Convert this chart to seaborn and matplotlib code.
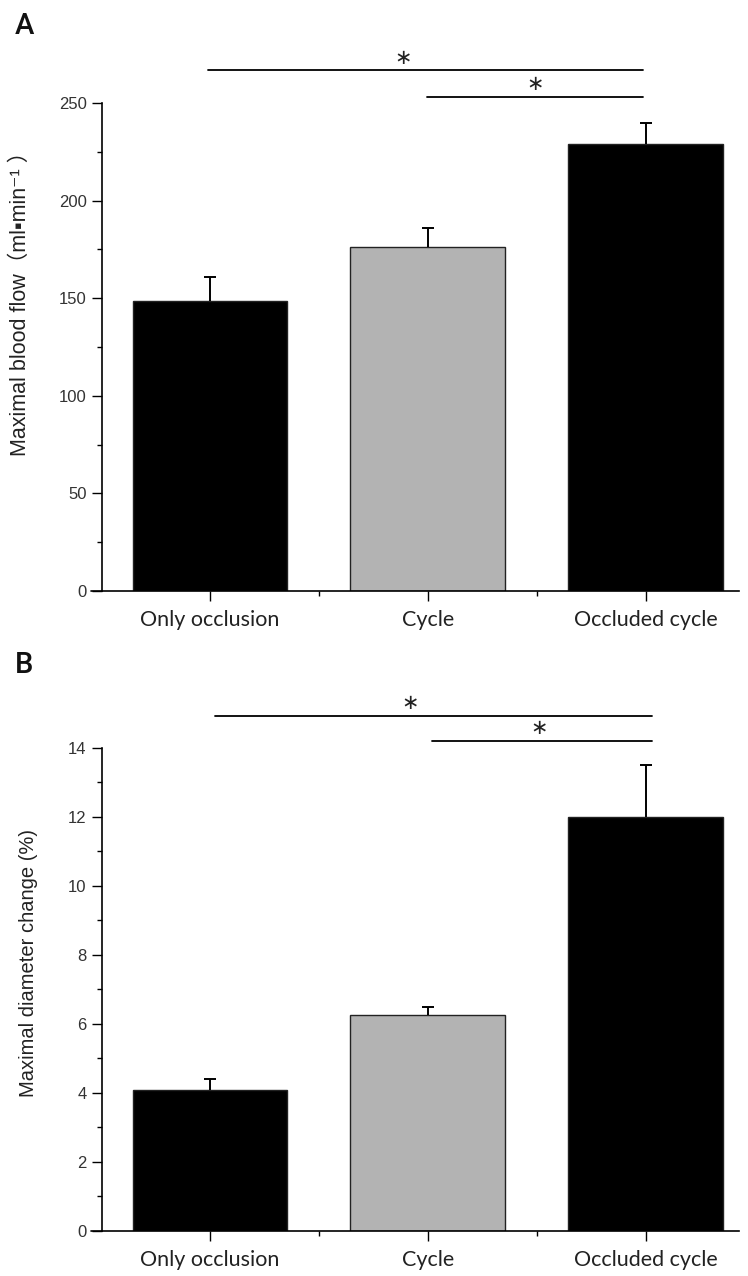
import matplotlib
matplotlib.use("Agg")
import matplotlib.pyplot as plt
import seaborn as sns
import pandas as pd
import numpy as np
from matplotlib.ticker import MultipleLocator, FixedLocator

categories = ["Only occlusion", "Cycle", "Occluded cycle"]
flow_mean = [148.5, 176.0, 229.0]
flow_err = [12.5, 10.0, 10.5]
diam_mean = [4.1, 6.25, 12.0]
diam_err = [0.3, 0.25, 1.5]
bar_colors = ["#000000", "#b3b3b3", "#000000"]

sns.set_theme(style="ticks")
plt.rcParams['font.family'] = ['Liberation Sans', 'DejaVu Sans', 'Noto Sans CJK JP']

fig = plt.figure(figsize=(7.48, 12.76), dpi=100)
axA = fig.add_axes([0.1364, 0.5368, 0.852, 0.3825])
axB = fig.add_axes([0.1364, 0.0353, 0.852, 0.3785])


def draw(ax, means, errs, ymax, major, minor, ylabel, label_size, label_pos,
         sig_lines, sig_stars):
    df = pd.DataFrame({"group": categories, "value": means})
    sns.barplot(data=df, x="group", y="value", hue="group", palette=bar_colors,
                edgecolor="#222222", linewidth=1.0, width=0.71, legend=False, ax=ax,
                errorbar=None)
    x = np.arange(len(categories))
    _, caps, _ = ax.errorbar(x, means, yerr=[np.zeros(len(errs)), errs], fmt="none",
                             ecolor="black", elinewidth=1.4, capsize=4.3, capthick=1.4)
    caps[0].set_visible(False)
    ax.set_xlim(-0.495, 2.43)
    ax.set_ylim(0, ymax)
    ax.yaxis.set_major_locator(MultipleLocator(major))
    ax.yaxis.set_minor_locator(MultipleLocator(minor))
    ax.xaxis.set_minor_locator(FixedLocator([0.5, 1.5]))
    ax.tick_params(axis="both", which="major", direction="out", length=7, width=1,
                   color="black")
    ax.tick_params(axis="both", which="minor", direction="out", length=3.5, width=1,
                   color="black")
    ax.tick_params(axis="y", labelsize=12, labelcolor="#333333", pad=4)
    ax.tick_params(axis="x", labelsize=15.5, labelcolor="#222222", pad=7)
    for lab in ax.get_xticklabels():
        lab.set_fontfamily("Lato")
    ax.spines["top"].set_visible(False)
    ax.spines["right"].set_visible(False)
    ax.spines["left"].set_linewidth(1.2)
    ax.spines["bottom"].set_linewidth(1.2)
    ax.spines["left"].set_color("black")
    ax.spines["bottom"].set_color("black")
    # bottom axis line extends slightly left of the y spine
    ax.plot([-0.018, 0], [0, 0], transform=ax.transAxes, color="black", lw=1.2,
            clip_on=False)
    ax.set_xlabel("")
    ax.set_ylabel(ylabel, fontsize=label_size, color="#222222")
    ax.yaxis.set_label_coords(*label_pos)
    for (x0, x1, yy) in sig_lines:
        ax.plot([x0, x1], [yy, yy], color="black", lw=1.3, clip_on=False)
    for (xs, ys) in sig_stars:
        ax.text(xs, ys, "∗", ha="center", va="center", fontsize=15, family="DejaVu Sans",
                color="#222222", clip_on=False)


draw(axA, flow_mean, flow_err, 250, 50, 25,
     "Maximal blood flow（ml▪min⁻¹ ）", 15.5, (-0.112, 0.60),
     [(-0.01, 1.986, 266.9), (0.995, 1.986, 253.0)],
     [(0.885, 273.0), (1.495, 259.8)])
draw(axB, diam_mean, diam_err, 14, 2, 1,
     "Maximal diameter change (%)", 14.5, (-0.10, 0.555),
     [(0.023, 2.03, 14.93), (1.02, 2.03, 14.2)],
     [(0.92, 15.31), (1.51, 14.57)])

fig.text(0.02, 0.9796, "A", fontsize=21, family="Roboto", fontweight="medium",
         color="#111111", va="center", ha="left")
fig.text(0.02, 0.479, "B", fontsize=21, family="Roboto", fontweight="medium",
         color="#111111", va="center", ha="left")

fig.savefig("out.png", dpi=100)
